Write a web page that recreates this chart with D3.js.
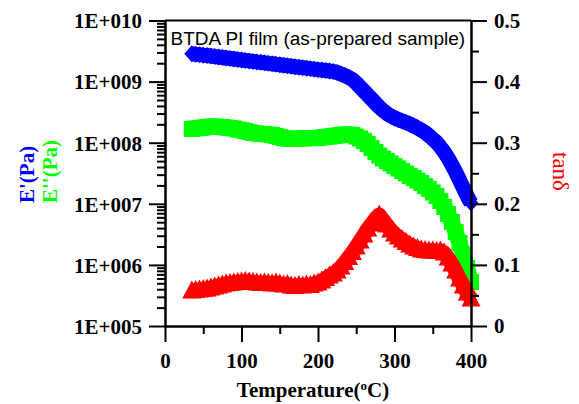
<!DOCTYPE html>
<html>
<head>
<meta charset="utf-8">
<script src="https://cdn.jsdelivr.net/npm/d3@7"></script>
<style>
  html, body { margin: 0; padding: 0; background: #fff; }
  svg { display: block; }
  .tick text { font-family: "Liberation Serif", "Times New Roman", serif; font-weight: bold; font-size: 21px; fill: #000; }
</style>
</head>
<body>
<svg id="chart" width="579" height="404"></svg>
<script>
// Temperature sweep (°C), one reading every 5 °C
const temperature = [
  35, 40, 45, 50, 55, 60, 65, 70, 75, 80, 85, 90, 95, 100, 105, 110, 115, 120, 125, 130,
  135, 140, 145, 150, 155, 160, 165, 170, 175, 180, 185, 190, 195, 200, 205, 210, 215, 220,
  225, 230, 235, 240, 245, 250, 255, 260, 265, 270, 275, 280, 285, 290, 295, 300, 305, 310,
  315, 320, 325, 330, 335, 340, 345, 350, 355, 360, 365, 370, 375, 380, 385, 390, 395, 400
];

// Storage modulus E' (Pa)
const storageModulus = [
  2.86e9, 2.81e9, 2.76e9, 2.71e9, 2.67e9, 2.62e9, 2.57e9, 2.52e9, 2.48e9, 2.43e9,
  2.39e9, 2.35e9, 2.30e9, 2.26e9, 2.22e9, 2.18e9, 2.14e9, 2.10e9, 2.07e9, 2.03e9,
  1.99e9, 1.96e9, 1.92e9, 1.89e9, 1.85e9, 1.82e9, 1.79e9, 1.75e9, 1.72e9, 1.69e9,
  1.66e9, 1.63e9, 1.60e9, 1.57e9, 1.55e9, 1.52e9, 1.49e9, 1.46e9,
  1.41e9, 1.33e9, 1.26e9, 1.17e9, 1.08e9, 9.48e8, 8.16e8, 7.02e8, 6.04e8, 5.19e8,
  4.47e8, 3.84e8, 3.37e8, 3.01e8, 2.74e8, 2.54e8, 2.40e8, 2.26e8, 2.14e8, 2.02e8,
  1.88e8, 1.74e8, 1.61e8, 1.47e8, 1.31e8, 1.15e8, 1.01e8, 8.51e7, 7.05e7, 5.62e7,
  4.32e7, 3.31e7, 2.45e7, 1.82e7, 1.34e7, 1.03e7
];

// Loss modulus E'' (Pa)
const lossModulus = [
  1.68e8, 1.71e8, 1.74e8, 1.77e8, 1.81e8, 1.84e8, 1.84e8, 1.81e8, 1.81e8, 1.77e8,
  1.74e8, 1.71e8, 1.64e8, 1.61e8, 1.55e8, 1.50e8, 1.44e8, 1.42e8, 1.39e8, 1.39e8,
  1.36e8, 1.34e8, 1.29e8, 1.24e8, 1.19e8, 1.17e8, 1.15e8, 1.15e8, 1.17e8, 1.17e8,
  1.19e8, 1.19e8, 1.19e8, 1.19e8, 1.22e8, 1.24e8, 1.26e8, 1.29e8,
  1.31e8, 1.34e8, 1.36e8, 1.36e8, 1.34e8, 1.26e8, 1.17e8, 1.07e8, 9.52e7, 8.19e7,
  7.05e7, 6.17e7, 5.51e7, 5.01e7, 4.57e7, 4.16e7, 3.78e7, 3.44e7, 3.13e7, 2.85e7,
  2.64e7, 2.40e7, 2.19e7, 1.95e7, 1.75e7, 1.53e7, 1.34e7, 1.11e7, 8.87e6, 6.81e6,
  5.04e6, 3.45e6, 2.28e6, 1.45e6, 8.89e5, 5.25e5
];

// Loss factor tan δ
const lossFactor = [
  0.0573, 0.0581, 0.0589, 0.0597, 0.0606, 0.0622, 0.0638, 0.0655, 0.0671, 0.0687,
  0.0696, 0.0704, 0.0712, 0.0720, 0.0728, 0.0720, 0.0712, 0.0704, 0.0696, 0.0704,
  0.0696, 0.0687, 0.0704, 0.0687, 0.0671, 0.0679, 0.0655, 0.0646, 0.0663, 0.0655,
  0.0671, 0.0663, 0.0687, 0.0704, 0.0736, 0.0777, 0.0818, 0.0851,
  0.0900, 0.0966, 0.1039, 0.1121, 0.1203, 0.1293, 0.1391, 0.1489, 0.1588, 0.1669,
  0.1751, 0.1817, 0.1735, 0.1653, 0.1571, 0.1506, 0.1457, 0.1408, 0.1367, 0.1326,
  0.1293, 0.1268, 0.1244, 0.1236, 0.1227, 0.1227, 0.1219, 0.1227, 0.1195, 0.1113,
  0.1015, 0.0900, 0.0769, 0.0655, 0.0540, 0.0442
];

// Axis ticks and labels
const xTicks = [0, 100, 200, 300, 400];
const xMinorTicks = [50, 150, 250, 350];
const modulusTicks = [1e5, 1e6, 1e7, 1e8, 1e9, 1e10];
const modulusTickLabels = ["1E+005", "1E+006", "1E+007", "1E+008", "1E+009", "1E+010"];
const tanTicks = [0, 0.1, 0.2, 0.3, 0.4, 0.5];
const tanTickLabels = ["0", "0.1", "0.2", "0.3", "0.4", "0.5"];
const tanMinorTicks = [0.05, 0.15, 0.25, 0.35, 0.45];

const svg = d3.select("#chart");
const plotLeft = 165, plotRight = 471, plotTop = 20.5, plotBottom = 326;

const x = d3.scaleLinear().domain([0, 400]).range([plotLeft, plotRight]);
const yMod = d3.scaleLog().domain([1e5, 1e10]).range([plotBottom, plotTop]);
const yTan = d3.scaleLinear().domain([0, 0.5]).range([plotBottom, plotTop]);

// log minor ticks (2..9 within each decade)
const modulusMinorTicks = [];
for (let d = 5; d < 10; d++) {
  for (let m = 2; m <= 9; m++) modulusMinorTicks.push(m * Math.pow(10, d));
}

function styleAxis(g) {
  g.select(".domain").attr("stroke", "#000").attr("stroke-width", 2);
  g.selectAll(".tick line").attr("stroke", "#000").attr("stroke-width", 2);
}

// ---- data: thick connecting line plus a marker at every reading ----
const diamond = "M0,-8.5L7.5,0L0,8.5L-7.5,0Z";
const square = "M-8,-8L8,-8L8,8L-8,8Z";
const triangle = "M0,-10.5L9.5,7.5L-9.5,7.5Z";

const marks = svg.append("g");

function drawSeries(values, scale, shape, colour, width) {
  const pts = temperature.map((t, i) => [t, values[i]]);
  const g = marks.append("g");
  g.append("path")
    .datum(pts)
    .attr("d", d3.line().x(d => x(d[0])).y(d => scale(d[1])))
    .attr("fill", "none")
    .attr("stroke", colour)
    .attr("stroke-width", width)
    .attr("stroke-linejoin", "round");
  g.selectAll("path.m")
    .data(pts)
    .join("path")
    .attr("class", "m")
    .attr("d", shape)
    .attr("transform", d => `translate(${x(d[0])},${scale(d[1])})`)
    .attr("fill", colour);
}

drawSeries(storageModulus, yMod, diamond, "#0000ff", 15);
drawSeries(lossModulus, yMod, square, "#00ff00", 16);
drawSeries(lossFactor, yTan, triangle, "#ff0000", 15);

// ---- axes ----
// top frame line
svg.append("line")
  .attr("x1", plotLeft).attr("x2", plotRight).attr("y1", plotTop).attr("y2", plotTop)
  .attr("stroke", "#000").attr("stroke-width", 2);

// bottom axis
svg.append("g").attr("transform", `translate(0,${plotBottom})`)
  .call(d3.axisBottom(x).tickValues(xMinorTicks).tickSize(8).tickSizeOuter(0).tickFormat(""))
  .call(styleAxis);
const xAxis = svg.append("g").attr("transform", `translate(0,${plotBottom})`)
  .call(d3.axisBottom(x).tickValues(xTicks).tickSize(16).tickSizeOuter(0).tickFormat(d3.format("d")))
  .call(styleAxis);
xAxis.selectAll(".tick text").attr("dy", null).attr("y", 42);

// left axis (moduli, log)
svg.append("g").attr("transform", `translate(${plotLeft},0)`)
  .call(d3.axisLeft(yMod).tickValues(modulusMinorTicks).tickSize(8).tickSizeOuter(0).tickFormat(""))
  .call(styleAxis);
svg.append("g").attr("transform", `translate(${plotLeft},0)`)
  .call(d3.axisLeft(yMod).tickValues(modulusTicks).tickSize(16).tickSizeOuter(0).tickPadding(7)
    .tickFormat((d, i) => modulusTickLabels[i]))
  .call(styleAxis)
  .selectAll(".tick text").attr("dy", "0.35em");

// right axis (tan δ)
svg.append("g").attr("transform", `translate(${plotRight},0)`)
  .call(d3.axisRight(yTan).tickValues(tanMinorTicks).tickSize(8).tickSizeOuter(0).tickFormat(""))
  .call(styleAxis);
svg.append("g").attr("transform", `translate(${plotRight},0)`)
  .call(d3.axisRight(yTan).tickValues(tanTicks).tickSize(16).tickSizeOuter(0).tickPadding(7)
    .tickFormat((d, i) => tanTickLabels[i]))
  .call(styleAxis)
  .selectAll(".tick text").attr("dy", "0.33em");

// ---- titles ----
svg.append("text")
  .attr("x", 170.5).attr("y", 45)
  .attr("font-family", "Liberation Sans, Arial, sans-serif")
  .attr("font-size", 19)
  .attr("fill", "#000")
  .text("BTDA PI film (as-prepared sample)");

const xTitle = svg.append("text")
  .attr("x", (plotLeft + plotRight) / 2 - 5).attr("y", 397)
  .attr("text-anchor", "middle")
  .attr("font-family", "Liberation Serif, Times New Roman, serif")
  .attr("font-weight", "bold")
  .attr("font-size", 21)
  .attr("fill", "#000");
xTitle.append("tspan").text("Temperature(");
xTitle.append("tspan").attr("font-size", 13).attr("dy", -7).text("o");
xTitle.append("tspan").attr("dy", 7).text("C)");

svg.append("text")
  .attr("transform", "translate(34,203) rotate(-90)")
  .attr("font-family", "Liberation Serif, Times New Roman, serif")
  .attr("font-weight", "bold")
  .attr("font-size", 21)
  .attr("fill", "#0000ff")
  .text("E'(Pa)");

svg.append("text")
  .attr("transform", "translate(57,203) rotate(-90)")
  .attr("font-family", "Liberation Serif, Times New Roman, serif")
  .attr("font-weight", "bold")
  .attr("font-size", 21)
  .attr("fill", "#00ff00")
  .text("E''(Pa)");

svg.append("text")
  .attr("transform", "translate(553,152) rotate(90)")
  .attr("font-family", "Liberation Serif, Times New Roman, serif")
  .attr("font-size", 23)
  .attr("fill", "#ff0000")
  .text("tanδ");
</script>
</body>
</html>
